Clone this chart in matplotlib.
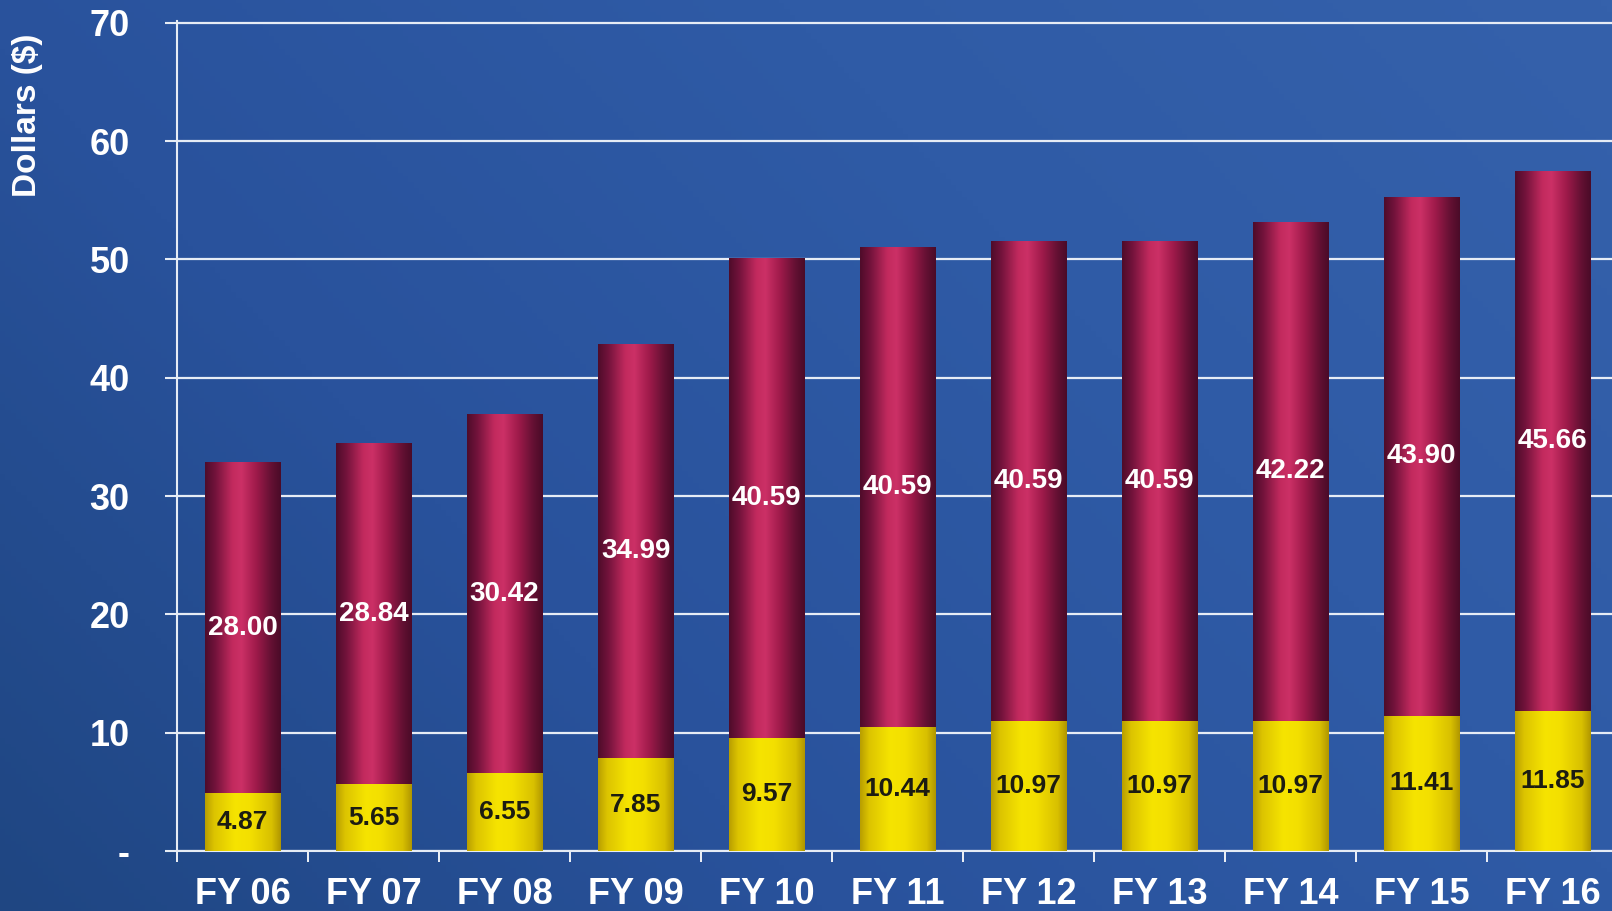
import numpy as np
import matplotlib.pyplot as plt
from matplotlib.colors import LinearSegmentedColormap

plt.rcParams['font.family'] = ['Liberation Sans', 'DejaVu Sans']
plt.rcParams['font.weight'] = 'bold'

# Fiscal years and the two stacked components (dollars)
years = ["FY 06", "FY 07", "FY 08", "FY 09", "FY 10", "FY 11",
         "FY 12", "FY 13", "FY 14", "FY 15", "FY 16"]
lower_vals = [4.87, 5.65, 6.55, 7.85, 9.57, 10.44, 10.97, 10.97, 10.97, 11.41, 11.85]
upper_vals = [28.00, 28.84, 30.42, 34.99, 40.59, 40.59, 40.59, 40.59, 42.22, 43.90, 45.66]
ytick_vals = [0, 10, 20, 30, 40, 50, 60, 70]
ytick_labels = ["-", "10", "20", "30", "40", "50", "60", "70"]

# Colour maps: slide background and the shaded "cylinder" look of the bars
bg_cmap = LinearSegmentedColormap.from_list(
    "bg", ["#1f4682", "#29529c", "#2f5ba6", "#3561ab"])
crimson_cmap = LinearSegmentedColormap.from_list(
    "crimson", [(0.0, "#4e0c2a"), (0.14, "#74133c"), (0.36, "#c22a5e"),
                (0.48, "#cc3066"), (0.68, "#9e1a4a"), (0.88, "#621032"),
                (1.0, "#4a0b28")])
yellow_cmap = LinearSegmentedColormap.from_list(
    "yellow", [(0.0, "#b89e00"), (0.12, "#dcc400"), (0.4, "#f6e400"),
               (0.6, "#f3df00"), (0.88, "#d8c000"), (1.0, "#b09600")])

fig = plt.figure(figsize=(16.12, 9.11), dpi=100)

# Background gradient, darker towards the bottom left
bg = fig.add_axes([0, 0, 1, 1])
bg.axis('off')
gx, gy = np.meshgrid(np.linspace(0, 1, 300), np.linspace(0, 1, 300))
bg.imshow(0.65 * gx + 0.35 * gy, cmap=bg_cmap, origin='lower',
          extent=[0, 1, 0, 1], aspect='auto')

ax = fig.add_axes([0.1098, 0.0659, 0.894, 0.911])
ax.patch.set_alpha(0)

x = np.arange(len(years))
width = 0.58
bars_low = ax.bar(x, lower_vals, width=width, color="#f0dc00", zorder=3)
bars_up = ax.bar(x, upper_vals, bottom=lower_vals, width=width,
                 color="#a01848", zorder=3)

# Horizontal shading clipped to each bar
shade = np.linspace(0, 1, 256).reshape(1, -1)
for bars, cmap in [(bars_low, yellow_cmap), (bars_up, crimson_cmap)]:
    for p in bars:
        x0, y0 = p.get_x(), p.get_y()
        im = ax.imshow(shade, cmap=cmap, aspect='auto', zorder=4,
                       extent=[x0, x0 + p.get_width(), y0, y0 + p.get_height()])
        im.set_clip_path(p)

# Value labels centred in each segment
for xi, lo, up in zip(x, lower_vals, upper_vals):
    ax.text(xi, lo / 2, f"{lo:.2f}", ha='center', va='center', fontsize=19,
            color="#1c1c12", fontweight='bold', zorder=5)
    ax.text(xi, lo + up / 2, f"{up:.2f}", ha='center', va='center', fontsize=20,
            color="white", fontweight='bold', zorder=5)

ax.set_xlim(-0.5, len(years) - 0.5)
ax.set_ylim(0, 70.15)

ax.set_xticks(x, years)
ax.set_xticks(np.arange(-0.5, len(years), 1), minor=True)
ax.tick_params(axis='x', which='major', length=0, pad=19, labelsize=26,
               labelcolor='white')
ax.tick_params(axis='x', which='minor', length=8, width=1.3, color='white')

ax.set_yticks(ytick_vals, ytick_labels)
ax.tick_params(axis='y', length=9, width=1.5, color='#e6ecf5', pad=25,
               labelsize=26, labelcolor='white')

ax.yaxis.grid(True, color='#e6ecf5', linewidth=1.6)
ax.set_axisbelow(True)
for side in ['top', 'right']:
    ax.spines[side].set_visible(False)
for side in ['left', 'bottom']:
    ax.spines[side].set_color('#e6ecf5')
    ax.spines[side].set_linewidth(1.5)

fig.text(28 / 1612, 1 - 115 / 911, "Dollars ($)", rotation=90, ha='center',
         va='center', fontsize=24, color='white', fontweight='bold')

fig.savefig("out.png", dpi=100)
